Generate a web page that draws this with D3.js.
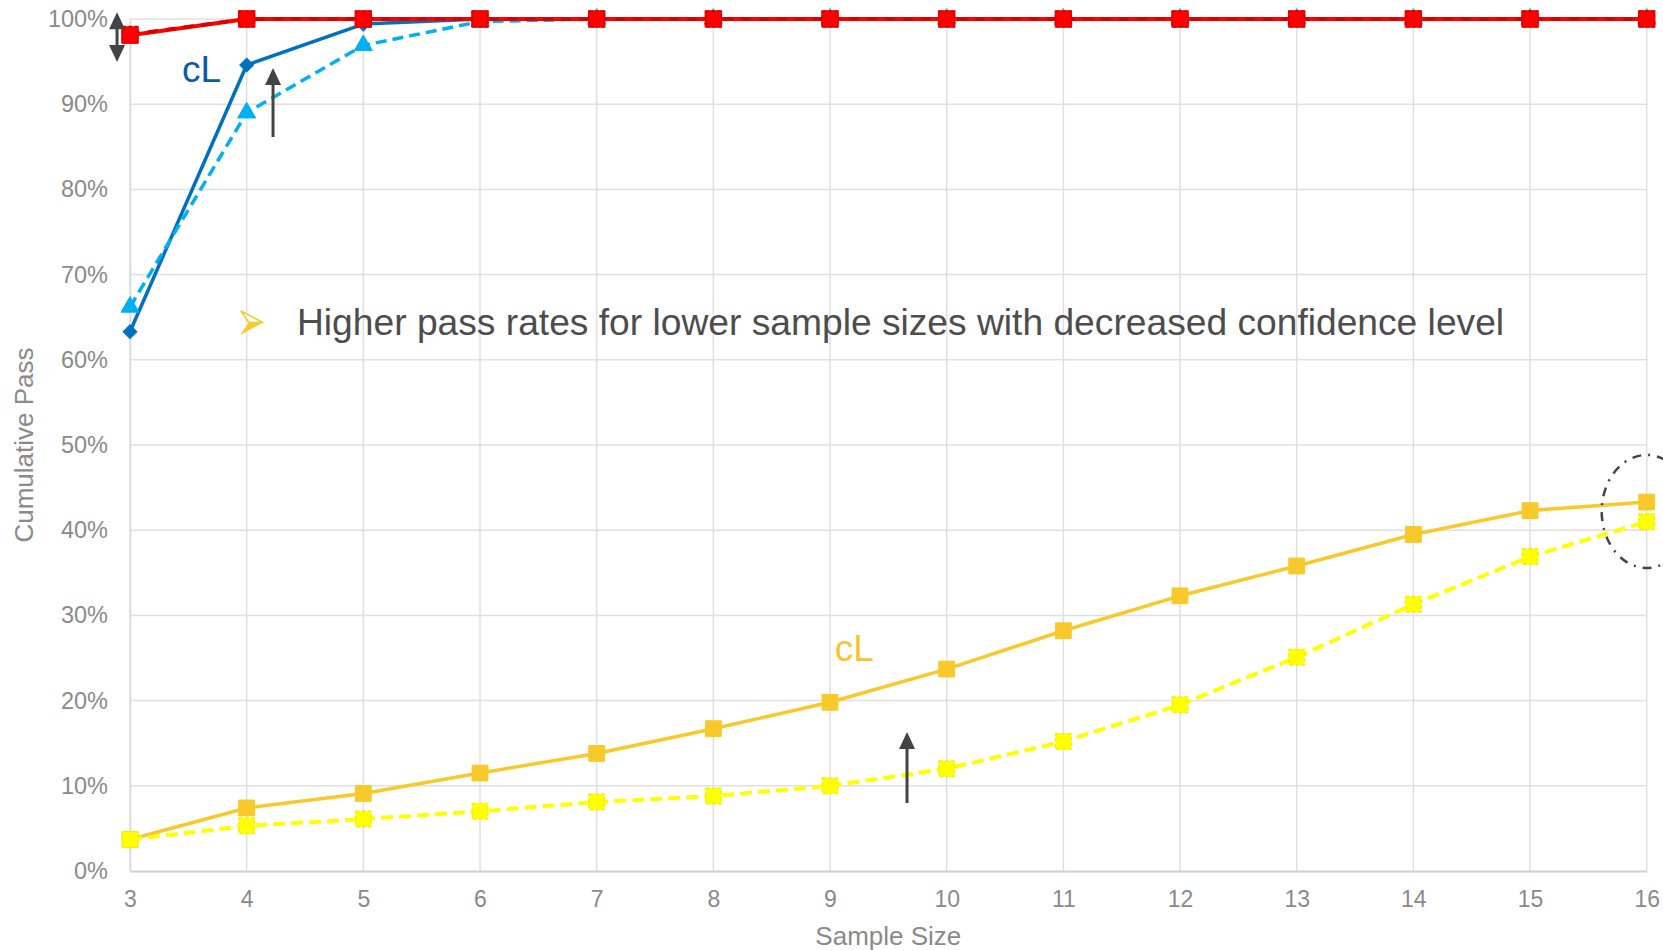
<!DOCTYPE html>
<html>
<head>
<meta charset="utf-8">
<script src="https://cdn.jsdelivr.net/npm/d3@7"></script>
<style>
  html, body { margin: 0; padding: 0; background: #fff; overflow: hidden; }
  svg { display: block; font-family: "Liberation Sans", Arial, sans-serif; }
</style>
</head>
<body>
<svg id="chart" width="1663" height="950"></svg>
<script>
// Sample sizes on the x axis
const sampleSizes = [3, 4, 5, 6, 7, 8, 9, 10, 11, 12, 13, 14, 15, 16];

// Cumulative pass rates (%) per sample size
const blueHighCL  = [63.3, 94.6, 99.4, 100, 100, 100, 100, 100, 100, 100, 100, 100, 100, 100];
const blueLowCL   = [66.2, 89.0, 96.9, 99.7, 100, 100, 100, 100, 100, 100, 100, 100, 100, 100];
const redHighCL   = [98.1, 100, 100, 100, 100, 100, 100, 100, 100, 100, 100, 100, 100, 100];
const redLowCL    = [98.2, 100, 100, 100, 100, 100, 100, 100, 100, 100, 100, 100, 100, 100];
const amberHighCL = [3.7, 7.4, 9.1, 11.5, 13.8, 16.7, 19.8, 23.7, 28.2, 32.3, 35.8, 39.5, 42.3, 43.3];
const yellowLowCL = [3.7, 5.3, 6.1, 7.0, 8.1, 8.8, 10.0, 12.0, 15.2, 19.5, 25.1, 31.3, 36.9, 41.0];

// Y axis ticks (%)
const yTicks = [0, 10, 20, 30, 40, 50, 60, 70, 80, 90, 100];

const svg = d3.select("#chart");
const plot = { left: 130, right: 1646.7, top: 19, bottom: 871 };

const x = d3.scaleLinear().domain([3, 16]).range([plot.left, plot.right]);
const y = d3.scaleLinear().domain([0, 100]).range([plot.bottom, plot.top]);

// Grid
const grid = svg.append("g");
grid.selectAll("line.h").data(yTicks.filter(t => t > 0)).join("line")
  .attr("x1", plot.left).attr("x2", plot.right)
  .attr("y1", d => y(d)).attr("y2", d => y(d))
  .attr("stroke", "#e0e0e0").attr("stroke-width", 1.5);
grid.selectAll("line.v").data(sampleSizes).join("line")
  .attr("x1", d => x(d)).attr("x2", d => x(d))
  .attr("y1", plot.top).attr("y2", plot.bottom)
  .attr("stroke", "#e0e0e0").attr("stroke-width", 1.5);

// Axes
const xAxis = d3.axisBottom(x).tickValues(sampleSizes).tickSize(0).tickPadding(20).tickFormat(d3.format("d"));
const gx = svg.append("g").attr("transform", `translate(0,${plot.bottom})`).call(xAxis);
gx.select(".domain").attr("stroke", "#d0d0d0").attr("stroke-width", 2);
gx.selectAll("text").attr("fill", "#8a8a8a").attr("font-size", 23)
  .attr("font-family", "Liberation Sans, Arial, sans-serif");

const yAxis = d3.axisLeft(y).tickValues(yTicks).tickSize(0).tickPadding(22).tickFormat(d => d + "%");
const gy = svg.append("g").attr("transform", `translate(${plot.left},0)`).call(yAxis);
gy.select(".domain").attr("stroke", "#d9d9d9").attr("stroke-width", 1.5);
gy.selectAll("text").attr("fill", "#8a8a8a").attr("font-size", 23.5)
  .attr("font-family", "Liberation Sans, Arial, sans-serif");

// Axis titles
svg.append("text").attr("x", (plot.left + plot.right) / 2).attr("y", 945)
  .attr("text-anchor", "middle").attr("fill", "#8a8a8a").attr("font-size", 26)
  .text("Sample Size");
svg.append("text")
  .attr("transform", `translate(33,${(plot.top + plot.bottom) / 2}) rotate(-90)`)
  .attr("text-anchor", "middle").attr("fill", "#8a8a8a").attr("font-size", 26)
  .text("Cumulative Pass");

// Series
const lineGen = d3.line().x(d => x(d[0])).y(d => y(d[1]));
const pairs = vals => sampleSizes.map((s, i) => [s, vals[i]]);

function drawSeries(vals, opt) {
  const g = svg.append("g");
  const pts = pairs(vals);
  g.append("path").datum(pts).attr("d", lineGen)
    .attr("fill", "none").attr("stroke", opt.color).attr("stroke-width", opt.width)
    .attr("stroke-dasharray", opt.dash || null).attr("stroke-linejoin", "round");
  const sym = d3.symbol().type(opt.symbol).size(opt.size);
  g.selectAll("path.m").data(pts).join("path")
    .attr("transform", d => `translate(${x(d[0])},${y(d[1])})${opt.rotate ? " rotate(45)" : ""}`)
    .attr("d", sym)
    .attr("fill", opt.markerFill || opt.color)
    .attr("stroke", opt.markerStroke || opt.color)
    .attr("stroke-width", opt.markerStrokeWidth || 1)
    .attr("stroke-dasharray", opt.markerDash || null);
}

drawSeries(amberHighCL, { color: "#f8c92a", width: 3.5, symbol: d3.symbolSquare, size: 250 });
drawSeries(yellowLowCL, { color: "#ffff00", width: 4, dash: "12,6", symbol: d3.symbolSquare, size: 240,
  markerStroke: "#f2f200", markerStrokeWidth: 1.5, markerDash: "4,2" });
drawSeries(blueHighCL, { color: "#0070c0", width: 3.5, symbol: d3.symbolSquare, size: 95, rotate: true });
drawSeries(blueLowCL, { color: "#00b0f0", width: 3.5, dash: "11,6", symbol: d3.symbolTriangle, size: 140 });
drawSeries(redHighCL, { color: "#ff0000", width: 4, symbol: d3.symbolSquare, size: 270 });
drawSeries(redLowCL, { color: "#d90000", width: 3.5, dash: "10,8", symbol: d3.symbolSquare, size: 240,
  markerFill: "#ff0000", markerStroke: "#d00000", markerStrokeWidth: 1.5, markerDash: "4,2" });

// Annotation arrows
const ink = "#444444";
function arrowHead(g, xp, yp, dir) {
  // dir: -1 points up, +1 points down
  g.append("path")
    .attr("d", `M${xp},${yp} L${xp - 8},${yp - dir * 17} L${xp + 8},${yp - dir * 17} Z`)
    .attr("fill", ink);
}
function upArrow(xv, yFrom, yTo) {
  const g = svg.append("g");
  g.append("line").attr("x1", x(xv)).attr("x2", x(xv))
    .attr("y1", y(yFrom)).attr("y2", y(yTo) + 14)
    .attr("stroke", ink).attr("stroke-width", 3);
  arrowHead(g, x(xv), y(yTo), -1);
}
upArrow(4.226, 86.15, 94.25);
upArrow(9.66, 7.98, 16.3);

// Double-headed arrow at the first sample size
(function () {
  const g = svg.append("g");
  const xp = x(2.889);
  g.append("line").attr("x1", xp).attr("x2", xp)
    .attr("y1", y(100.8) + 14).attr("y2", y(94.95) - 14)
    .attr("stroke", ink).attr("stroke-width", 3);
  arrowHead(g, xp, y(100.8), -1);
  arrowHead(g, xp, y(94.95), 1);
})();

// Dash-dot ellipse around the last sample size
svg.append("ellipse")
  .attr("cx", x(16)).attr("cy", y(42.2)).attr("rx", 45).attr("ry", 56.5)
  .attr("fill", "none").attr("stroke", ink).attr("stroke-width", 2.5)
  .attr("stroke-dasharray", "9,7,2,7");

// Confidence level labels
svg.append("text").attr("x", x(3.445)).attr("y", y(92.6))
  .attr("fill", "#0f5aa6").attr("font-size", 37).text("cL");
svg.append("text").attr("x", x(9.04)).attr("y", y(24.7))
  .attr("fill", "#f7c62e").attr("font-size", 37).text("cL");

// Bullet note
(function () {
  const g = svg.append("g").attr("transform", "translate(240,310)");
  g.append("path").attr("d", "M1,1 L23,12.5 L9,12.5 Z")
    .attr("fill", "#ffffff").attr("stroke", "#f8c92a").attr("stroke-width", 1.5)
    .attr("stroke-linejoin", "round");
  g.append("path").attr("d", "M9,12.5 L23,12.5 L0,25 Z").attr("fill", "#f8c92a");
  svg.append("text").attr("x", 297).attr("y", 335)
    .attr("fill", "#4d4d4d").attr("font-size", 37.2)
    .text("Higher pass rates for lower sample sizes with decreased confidence level");
})();
</script>
</body>
</html>
